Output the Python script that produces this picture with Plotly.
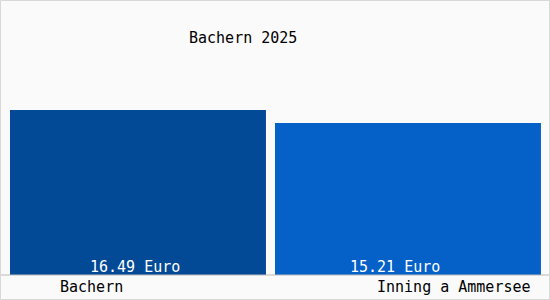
import plotly.graph_objects as go

categories = ["Bachern", "Inning a Ammersee"]
values = [16.49, 15.21]
value_labels = ["16.49 Euro", "15.21 Euro"]
title_text = "Bachern 2025"
colors = ["#034a96", "#0560c8"]

# bar geometry (style)
bar_offsets = [-0.4815, -0.5]
bar_widths = [0.948, 0.985]

W, H = 550, 300
ml, mr, mt, mb = 5, 5, 25, 25
pw, ph = W - ml - mr, H - mt - mb
FONT = "DejaVu Sans Mono"
FS = 15

fig = go.Figure(go.Bar(x=categories, y=values, marker=dict(color=colors, line=dict(width=0)),
                       offset=bar_offsets, width=bar_widths, hoverinfo="skip"))

ann = []
ann.append(dict(text=title_text, xref="paper", yref="paper", x=(243 - ml) / pw, y=1 - (38 - mt) / ph,
                xanchor="center", yanchor="middle", showarrow=False,
                font=dict(family=FONT, size=FS, color="#000")))
shifts = [-5.5, -15.5]
for c, lab, s in zip(categories, value_labels, shifts):
    ann.append(dict(text=lab, x=c, y=0, xref="x", yref="y", yanchor="bottom", xanchor="center",
                    xshift=s, yshift=-3, showarrow=False, font=dict(family=FONT, size=FS, color="#fff")))
ann.append(dict(text=categories[0], xref="paper", yref="paper", x=(91 - ml) / pw, y=-(287 - 275) / ph,
                xanchor="center", yanchor="middle", showarrow=False,
                font=dict(family=FONT, size=FS, color="#000")))
ann.append(dict(text=categories[1], xref="paper", yref="paper", x=(533 - ml) / pw, y=-(287 - 275) / ph,
                xanchor="right", yanchor="middle", showarrow=False,
                font=dict(family=FONT, size=FS, color="#000")))

shapes = [
    dict(type="line", xref="paper", yref="paper", x0=-ml / pw, x1=1 + mr / pw, y0=0, y1=0,
         line=dict(color="#bbbbbb", width=1)),
    dict(type="rect", xref="paper", yref="paper", x0=(-ml + 0.5) / pw, x1=1 + (mr - 0.5) / pw,
         y0=-(mb - 0.5) / ph, y1=1 + (mt - 0.5) / ph, line=dict(color="#d8d8d8", width=1)),
]

fig.update_layout(
    width=W, height=H, margin=dict(l=ml, r=mr, t=mt, b=mb, pad=0),
    paper_bgcolor="#fafafa", plot_bgcolor="#fafafa",
    showlegend=False,
    xaxis=dict(range=[-0.5, 1.5], showticklabels=False, showgrid=False, zeroline=False, showline=False, ticks=""),
    yaxis=dict(range=[0, 25], showticklabels=False, showgrid=False, zeroline=False, showline=False, ticks=""),
    annotations=ann, shapes=shapes,
    font=dict(family=FONT),
)
fig.write_html("out.html", config={"displayModeBar": False})
